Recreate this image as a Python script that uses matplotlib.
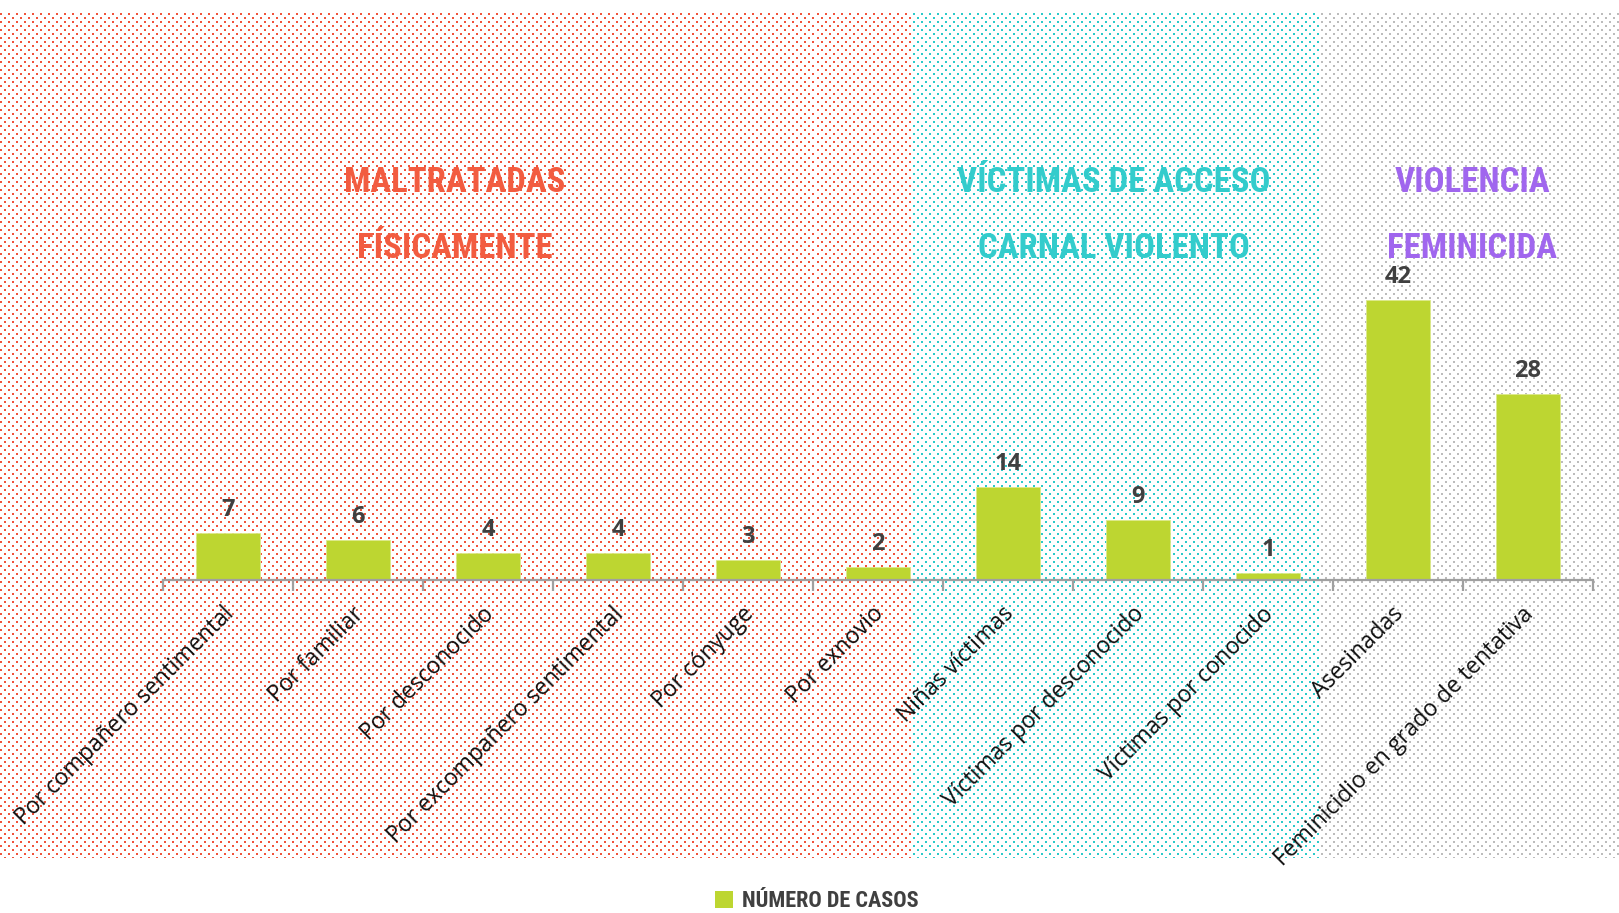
import numpy as np
import matplotlib
matplotlib.use("Agg")
import matplotlib.pyplot as plt
from matplotlib import font_manager
from matplotlib.patches import Patch
import matplotlib.transforms as mtransforms

# ---------------- data ----------------
categories = ["Por compañero sentimental", "Por familiar", "Por desconocido",
              "Por excompañero sentimental", "Por cónyuge", "Por exnovio",
              "Niñas víctimas", "Víctimas por desconocido", "Víctimas por conocido",
              "Asesinadas", "Feminicidio en grado de tentativa"]
values = [7, 6, 4, 4, 3, 2, 14, 9, 1, 42, 28]
group_titles = ["MALTRATADAS\nFÍSICAMENTE", "VÍCTIMAS DE ACCESO\nCARNAL VIOLENTO",
                "VIOLENCIA\nFEMINICIDA"]
group_sizes = [6, 3, 2]
series_name = "NÚMERO DE CASOS"

# ---------------- style ----------------
W, H, DPI = 1619, 913, 100
bar_color = "#BDD631"
red = (240, 84, 60)
teal = (44, 202, 202)
gray = (188, 188, 188)
title_colors = ["#F25C40", "#33CCCC", "#A066EE"]

names = {f.name for f in font_manager.fontManager.ttflist}
cond = None
for c in ["Liberation Sans Narrow", "Roboto Condensed", "Open Sans Condensed", "DejaVu Sans"]:
    if c in names:
        cond = c
        break
label_font = "Open Sans" if "Open Sans" in names else "DejaVu Sans"
title_size = 25 if cond != "DejaVu Sans" else 21

fig = plt.figure(figsize=(W / DPI, H / DPI), dpi=DPI)

# background dotted pattern
img = np.ones((H, W, 3), dtype=float)
ys, xs = np.mgrid[0:H, 0:W]
top, bot = 13, 858
row = (ys - top) // 4
on_row = ((ys - top) % 4 < 2) & (ys >= top) & (ys < bot)
offs = np.where(row % 2 == 1, 4, 0)
on_col = ((xs + offs) % 8) < 2
dots = on_row & on_col
b1, b2 = 912, 1318
for (x0, x1, col) in [(0, b1, red), (b1, b2, teal), (b2, W, gray)]:
    m = dots & (xs >= x0) & (xs < x1)
    img[m] = np.array(col) / 255.0
bg = fig.add_axes([0, 0, 1, 1], zorder=0)
bg.imshow(img, interpolation="nearest", aspect="auto")
bg.axis("off")

# main axes
ax_left, ax_right = 163 / W, 1593 / W
ax_bottom = (H - 580) / H
ax_h = 45 * 6.655 / H
ax = fig.add_axes([ax_left, ax_bottom, ax_right - ax_left, ax_h], zorder=1)
ax.patch.set_alpha(0)
x = np.arange(len(categories))
bars = ax.bar(x, values, width=0.49, color=bar_color, edgecolor="#DCE98A", linewidth=0.6, zorder=2)
ax.set_xlim(-0.5, len(categories) - 0.5)
ax.set_ylim(0, 45)
for s in ["top", "right", "left"]:
    ax.spines[s].set_visible(False)
ax.spines["bottom"].set_color("#A0A0A0")
ax.spines["bottom"].set_linewidth(1.6)
ax.set_yticks([])
ax.set_xticks(x)
ax.set_xticks(np.arange(-0.5, len(categories), 1.0), minor=True)
ax.tick_params(axis="x", which="major", length=0, pad=16)
ax.tick_params(axis="x", which="minor", length=8, width=1.6, color="#A0A0A0")
ax.set_xticklabels(categories, rotation=45, ha="right", va="top",
                   rotation_mode="anchor", fontsize=16.5, family=label_font, color="#111111")
off = mtransforms.ScaledTranslation(-6 / DPI, 0, fig.dpi_scale_trans)
for lab in ax.get_xticklabels():
    lab.set_transform(lab.get_transform() + off)

for xi, v in zip(x, values):
    ax.annotate(str(v), (xi, v), xytext=(0, 8), textcoords="offset points",
                ha="center", va="bottom", fontsize=17, fontweight="bold",
                family=label_font, color="#404040")

# group titles
title_x = [455, 1114, 1472]
for t, cx, colr in zip(group_titles, title_x, title_colors):
    l1, l2 = t.split("\n")
    fig.text(cx / W, 1 - 182 / H, l1, ha="center", va="center", fontsize=title_size,
             fontweight="bold", family=cond, color=colr)
    fig.text(cx / W, 1 - 248 / H, l2, ha="center", va="center", fontsize=title_size,
             fontweight="bold", family=cond, color=colr)

# legend
leg = fig.legend(handles=[Patch(facecolor=bar_color, edgecolor="none", label=series_name)],
                 loc="center", bbox_to_anchor=(817 / W, 1 - 901 / H), frameon=False,
                 handlelength=0.8, handleheight=0.8, handletextpad=0.4,
                 prop={"family": cond, "size": 16, "weight": "bold"})
for t in leg.get_texts():
    t.set_color("#404040")

fig.savefig("out.png", dpi=DPI)
